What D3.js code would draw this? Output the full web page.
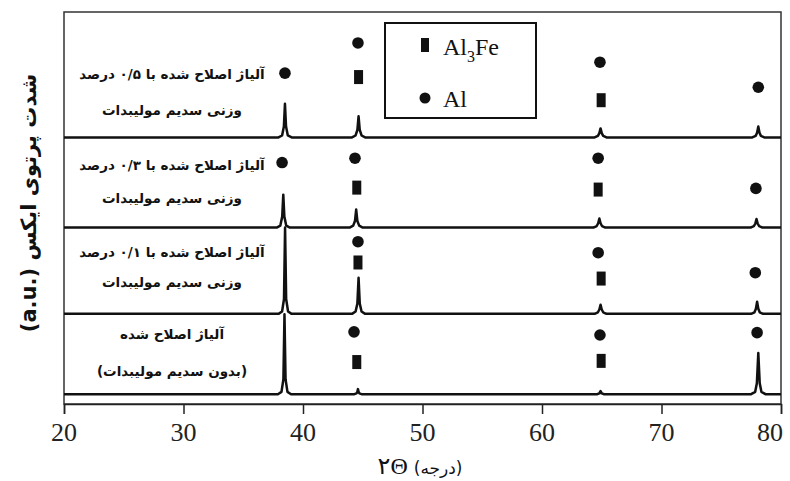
<!DOCTYPE html>
<html>
<head>
<meta charset="utf-8">
<script src="https://cdn.jsdelivr.net/npm/d3@7"></script>
<style>
  body { margin: 0; background: #fff; }
  svg { display: block; }
</style>
</head>
<body>
<svg width="790" height="481"></svg>
<script>
// 2θ ticks
const xTicks = [20, 30, 40, 50, 60, 70, 80]

// vertical offset (a.u.) of each pattern, bottom to top
const offsets = [2.5, 23, 45, 68]

// patterns: [2θ, intensity above own baseline]
const specNone = [
	[20, 0], [37.9, 0], [38.2, 0.6], [38.36, 3.8], [38.45, 20.4], [38.54, 3.8], [38.7, 0.6], [39.0, 0],
	[44.3, 0], [44.48, 0.2], [44.55, 0.6], [44.6, 1.3], [44.65, 0.6], [44.72, 0.2], [44.9, 0],
	[64.6, 0], [64.8, 0.2], [64.9, 0.8], [65.0, 0.2], [65.2, 0],
	[77.5, 0], [77.84, 0.6], [77.98, 2.8], [78.1, 10.5], [78.22, 2.8], [78.36, 0.6], [78.7, 0],
	[80, 0]
]
const spec01 = [
	[20, 0], [37.95, 0], [38.25, 0.6], [38.41, 3.8], [38.5, 22], [38.59, 3.8], [38.75, 0.6], [39.05, 0],
	[44.1, 0], [44.4, 0.6], [44.55, 2.6], [44.65, 9.2], [44.75, 2.6], [44.9, 0.6], [45.2, 0],
	[64.4, 0], [64.68, 0.4], [64.8, 1.1], [64.9, 2.3], [65.0, 1.1], [65.12, 0.4], [65.4, 0],
	[77.5, 0], [77.78, 0.4], [77.9, 1.3], [78.0, 3.1], [78.1, 1.3], [78.22, 0.4], [78.5, 0],
	[80, 0]
]
const spec03 = [
	[20, 0], [37.8, 0], [38.1, 0.5], [38.26, 2.8], [38.35, 8.4], [38.44, 2.8], [38.6, 0.5], [38.9, 0],
	[43.9, 0], [44.2, 0.5], [44.35, 1.7], [44.45, 4.6], [44.55, 1.7], [44.7, 0.5], [45.0, 0],
	[64.3, 0], [64.58, 0.4], [64.7, 1.1], [64.8, 2.3], [64.9, 1.1], [65.02, 0.4], [65.3, 0],
	[77.45, 0], [77.73, 0.4], [77.85, 1.0], [77.95, 2.2], [78.05, 1.0], [78.17, 0.4], [78.45, 0],
	[80, 0]
]
const spec05 = [
	[20, 0], [37.95, 0], [38.25, 0.5], [38.4, 2.8], [38.49, 8.6], [38.58, 2.8], [38.73, 0.5], [39.05, 0],
	[44.1, 0], [44.4, 0.5], [44.55, 1.9], [44.65, 5.4], [44.75, 1.9], [44.9, 0.5], [45.2, 0],
	[64.4, 0], [64.68, 0.4], [64.8, 1.1], [64.9, 2.3], [65.0, 1.1], [65.12, 0.4], [65.4, 0],
	[77.6, 0], [77.88, 0.4], [78.0, 1.2], [78.1, 2.8], [78.2, 1.2], [78.32, 0.4], [78.6, 0],
	[80, 0]
]
const spectra = [specNone, spec01, spec03, spec05]

// peak markers: [2θ, a.u.]
const alMarks = [
	[38.49, 84.4], [44.6, 92.1], [64.85, 87.2], [78.1, 80.8],
	[38.25, 61.6], [44.35, 62.7], [64.7, 62.7], [77.9, 55.0],
	[44.6, 41.4], [64.7, 38.6], [77.85, 33.5],
	[44.27, 18.4], [64.85, 17.6], [78.0, 18.2]
]
const al3feMarks = [
	[44.65, 83.4], [64.95, 77.5],
	[44.5, 55.2], [64.7, 54.7],
	[44.6, 36.1], [64.95, 32.0],
	[44.5, 10.7], [64.95, 11.0]
]

// sample labels, bottom to top
const labels = [
	["آلیاژ اصلاح شده", "(بدون سدیم مولیبدات)"],
	["آلیاژ اصلاح شده با ۰/۱ درصد", "وزنی سدیم مولیبدات"],
	["آلیاژ اصلاح شده با ۰/۳ درصد", "وزنی سدیم مولیبدات"],
	["آلیاژ اصلاح شده با ۰/۵ درصد", "وزنی سدیم مولیبدات"]
]
const labelLevels = [[16.6, 7.1], [37.6, 29.9], [59.6, 51.4], [82.8, 73.8]]

const serif = "'Liberation Serif', 'Times New Roman', 'DejaVu Serif', serif"

const margin = { top: 12, right: 9, bottom: 77, left: 64 }
const svg = d3.select("svg")
const width = +svg.attr("width") - margin.left - margin.right
const height = +svg.attr("height") - margin.top - margin.bottom

const x = d3.scaleLinear().domain([20, 80]).range([0, width])
const y = d3.scaleLinear().domain([0, 100]).range([height, 0])

const graph = svg.append("g").attr("transform", `translate(${margin.left}, ${margin.top})`)

// frame
graph.append("rect")
	.attr("width", width).attr("height", height)
	.attr("fill", "none").attr("stroke", "#333").attr("stroke-width", 1.5)

// axis line and ticks from d3, labels drawn separately in serif
const xAxis = d3.axisBottom(x).tickValues(xTicks).tickSize(10).tickSizeOuter(10).tickFormat("")
const xAxisGroup = graph.append("g")
	.attr("transform", `translate(0, ${height})`)
	.call(xAxis)
xAxisGroup.select(".domain").attr("stroke", "#222").attr("stroke-width", 1.5)
xAxisGroup.selectAll(".tick line").attr("stroke", "#222").attr("stroke-width", 1.5)

graph.selectAll("text.xlab").data(xTicks).enter().append("text")
	.attr("class", "xlab")
	.attr("x", (d) => (d === 80 ? x(d) + 2 : x(d)))
	.attr("y", height + 37)
	.attr("text-anchor", (d) => (d === 80 ? "end" : "middle"))
	.style("font-family", serif)
	.style("font-size", "26px")
	.attr("fill", "#222")
	.text((d) => String(d))

const line = d3.line()
	.x((d) => x(d[0]))

spectra.forEach((s, i) => {
	graph.append("path")
		.datum(s)
		.attr("d", line.y((d) => y(d[1] + offsets[i])))
		.attr("fill", "none")
		.attr("stroke", "#111")
		.attr("stroke-width", 2.5)
		.attr("stroke-linejoin", "round")
})

graph.selectAll("circle.al").data(alMarks).enter().append("circle")
	.attr("class", "al")
	.attr("cx", (d) => x(d[0])).attr("cy", (d) => y(d[1]))
	.attr("r", 5.8).attr("fill", "#111")

graph.selectAll("rect.al3fe").data(al3feMarks).enter().append("rect")
	.attr("class", "al3fe")
	.attr("x", (d) => x(d[0]) - 4.5).attr("y", (d) => y(d[1]) - 7)
	.attr("width", 9).attr("height", 14).attr("fill", "#111")

// sample labels
labels.forEach((lines, i) => {
	lines.forEach((t, j) => {
		graph.append("text")
			.attr("x", 108).attr("y", y(labelLevels[i][j]))
			.attr("text-anchor", "middle").attr("direction", "rtl")
			.attr("font-family", "DejaVu Sans").attr("font-weight", "bold").attr("font-size", 13.5)
			.attr("fill", "#111")
			.text(t)
	})
})

// legend
const legend = graph.append("g").attr("transform", "translate(321, 11)")
legend.append("rect").attr("width", 151).attr("height", 95)
	.attr("fill", "#fff").attr("stroke", "#111").attr("stroke-width", 2)
legend.append("rect").attr("x", 36).attr("y", 15).attr("width", 8).attr("height", 14).attr("fill", "#111")
legend.append("circle").attr("cx", 40).attr("cy", 75).attr("r", 5.5).attr("fill", "#111")
const lt = legend.append("text").attr("x", 58).attr("y", 32)
	.style("font-family", serif).attr("font-size", 24).attr("fill", "#111")
lt.append("tspan").text("Al")
lt.append("tspan").attr("dy", 7).attr("font-size", 16).text("3")
lt.append("tspan").attr("dy", -7).text("Fe")
legend.append("text").attr("x", 58).attr("y", 84)
	.style("font-family", serif).attr("font-size", 24).attr("fill", "#111")
	.text("Al")

// axis titles
svg.append("text")
	.attr("transform", "translate(36, 203) rotate(-90)")
	.attr("text-anchor", "middle").attr("direction", "ltr")
	.attr("font-family", "DejaVu Sans").attr("font-weight", "bold").attr("font-size", 21)
	.attr("fill", "#111")
	.text("(a.u.) شدت پرتوی ایکس")

const xt = svg.append("text")
	.attr("x", 420).attr("y", 474)
	.attr("text-anchor", "middle").attr("direction", "ltr")
	.attr("font-family", "DejaVu Sans").attr("font-size", 17)
	.attr("fill", "#111")
xt.append("tspan").attr("font-size", 24).text("۲")
xt.append("tspan").attr("font-size", 24).style("font-family", serif).text("Θ ")
xt.append("tspan").text("(درجه)")
</script>
</body>
</html>
